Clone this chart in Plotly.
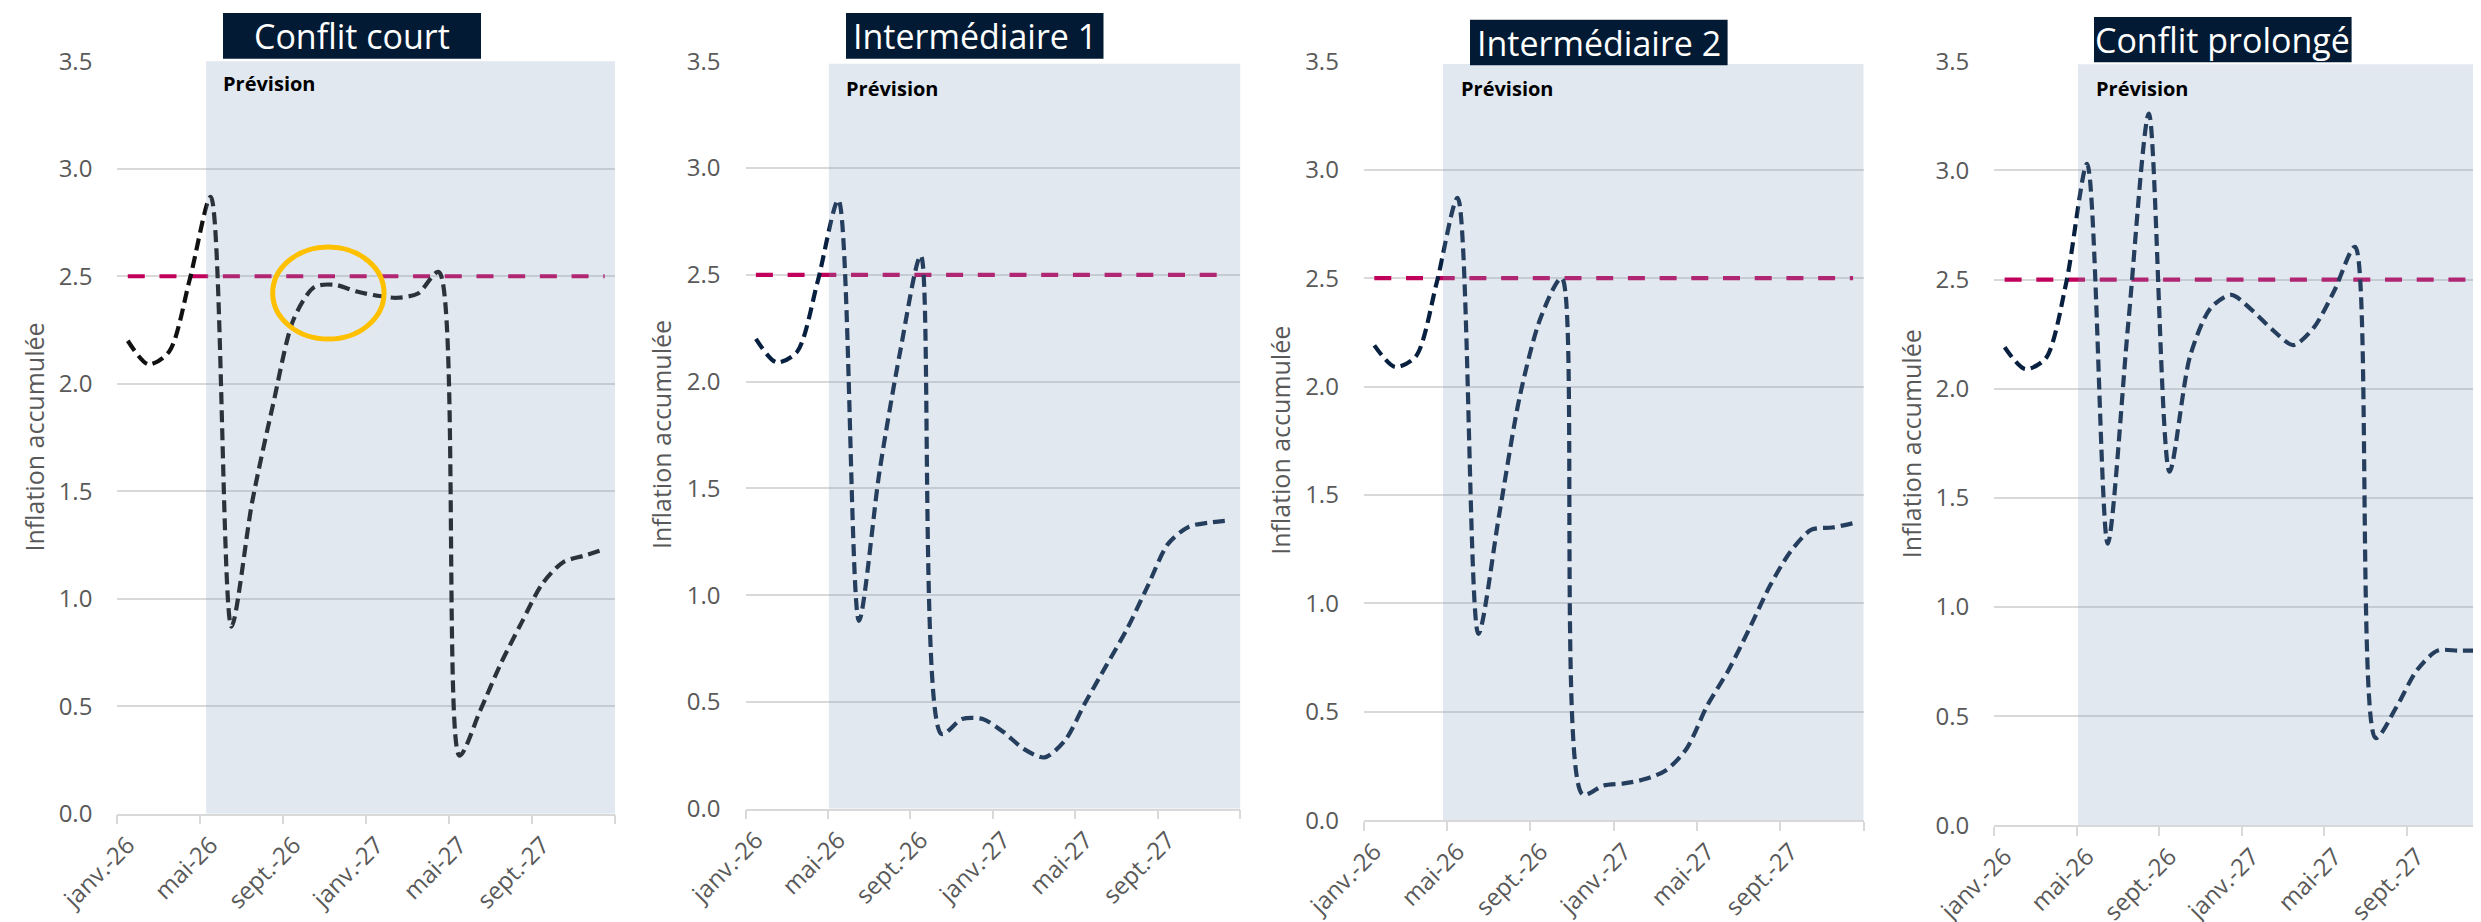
import plotly.graph_objects as go

W, H = 2481, 922

# ---------------- data ----------------
months = ["janv.-26", "févr.-26", "mars-26", "avr.-26", "mai-26", "juin-26",
          "juil.-26", "août-26", "sept.-26", "oct.-26", "nov.-26", "déc.-26",
          "janv.-27", "févr.-27", "mars-27", "avr.-27", "mai-27", "juin-27",
          "juil.-27", "août-27", "sept.-27", "oct.-27", "nov.-27", "déc.-27"]

conflit_court = [2.20, 2.09, 2.15, 2.49, 2.87, 0.87, 1.45, 1.90, 2.30, 2.45, 2.46, 2.43,
                 2.41, 2.40, 2.42, 2.52, 0.27, 0.48, 0.70, 0.89, 1.07, 1.17, 1.20, 1.23]
intermediaire_1 = [2.20, 2.09, 2.14, 2.47, 2.85, 0.88, 1.58, 2.14, 2.59, 0.35, 0.42, 0.42,
                   0.36, 0.28, 0.24, 0.32, 0.50, 0.67, 0.84, 1.04, 1.24, 1.32, 1.34, 1.35]
intermediaire_2 = [2.19, 2.09, 2.14, 2.48, 2.87, 0.86, 1.41, 1.96, 2.32, 2.50, 0.12, 0.16,
                   0.17, 0.19, 0.23, 0.33, 0.53, 0.69, 0.88, 1.08, 1.24, 1.34, 1.35, 1.37]
conflit_prolonge = [2.19, 2.09, 2.14, 2.49, 3.03, 1.29, 2.30, 3.26, 1.62, 2.15, 2.37, 2.43,
                    2.36, 2.27, 2.20, 2.28, 2.45, 2.65, 0.40, 0.54, 0.71, 0.80, 0.80, 0.80]
cible = [2.5, 2.5, 2.5, 2.5, 2.5, 2.5, 2.5, 2.5, 2.5, 2.5, 2.5, 2.5,
         2.5, 2.5, 2.5, 2.5, 2.5, 2.5, 2.5, 2.5, 2.5, 2.5, 2.5, 2.5]

scenario_titles = ["Conflit court", "Intermédiaire 1", "Intermédiaire 2", "Conflit prolongé"]
y_ticks = [0.0, 0.5, 1.0, 1.5, 2.0, 2.5, 3.0, 3.5]
label_step = 4
y_title = "Inflation accumulée"
forecast_label = "Prévision"

# ---------------- layout (pixels) ----------------
panels = [
    dict(x0=109.4, x1=607.0, ytop=53.3, ybot=805.7, shade=(3.78, 23.6, 3.506),
         box=(215, 473, 5, 50.7), prev=(213, 75), ytitle_x=26),
    dict(x0=737.6, x1=1232.2, ytop=53.3, ybot=800.7, shade=(3.54, 23.7, 3.488),
         box=(838, 1095.5, 5, 50.7), prev=(836, 80), ytitle_x=653),
    dict(x0=1355.9, x1=1855.5, ytop=53.3, ybot=812.3, shade=(3.30, 23.8, 3.487),
         box=(1462, 1719.6, 11.7, 57.3), prev=(1450.6, 80), ytitle_x=1272),
    dict(x0=1986.3, x1=2481.0, ytop=53.3, ybot=817.3, shade=(3.56, 24.0, 3.487),
         box=(2086, 2343.6, 9, 54.3), prev=(2085.7, 80), ytitle_x=1903),
]

series = [conflit_court, intermediaire_1, intermediaire_2, conflit_prolonge]
line_colors = ["#111111", "#08203f", "#08203f", "#08203f"]
FONT = "Open Sans"
GRID = "#d9d9d9"

x_idx = list(range(len(months)))
label_idx = list(range(0, len(months), label_step))
boundaries = [i - 0.5 for i in range(0, len(months) + 1, label_step)]

fig = go.Figure()
shapes, annotations = [], []

def px_x(v):
    return v / W

def px_y(v):
    return 1 - v / H

for k in range(4):
    sfx = "" if k == 0 else str(k + 1)
    xa, ya = "x" + sfx, "y" + sfx
    p = panels[k]

    fig.add_trace(go.Scatter(x=x_idx, y=cible, xaxis=xa, yaxis=ya, mode="lines",
                             line=dict(color="#c0005a", width=4.2, dash="17px,14.7px"),
                             hoverinfo="skip", showlegend=False))
    fig.add_trace(go.Scatter(x=x_idx, y=series[k], xaxis=xa, yaxis=ya, mode="lines",
                             line=dict(color=line_colors[k], width=4.2, dash="12px,6px",
                                       shape="spline", smoothing=0.8),
                             showlegend=False))

    fig.layout["xaxis" + sfx] = dict(
        domain=[px_x(p["x0"]), px_x(p["x1"])], anchor=ya, range=[-0.5, len(months) - 0.5],
        tickvals=label_idx, ticktext=[months[i] for i in label_idx], tickangle=-45,
        ticks="", showgrid=False, zeroline=False, showline=True, linecolor=GRID, linewidth=1.5,
        minor=dict(tickvals=boundaries, ticks="outside", ticklen=9, tickcolor=GRID,
                   tickwidth=1.5, showgrid=False),
        tickfont=dict(family=FONT, size=24, color="#595959"), ticklabelstandoff=6,
        automargin=False, fixedrange=True)
    fig.layout["yaxis" + sfx] = dict(
        domain=[px_y(p["ybot"]), px_y(p["ytop"])], anchor=xa, range=[0, 3.5],
        tickvals=y_ticks, tickformat=".1f", showgrid=True, gridcolor=GRID, gridwidth=1.5,
        zeroline=False, showline=False, ticks="",
        tickfont=dict(family=FONT, size=24, color="#595959"), ticklabelstandoff=24,
        automargin=False, fixedrange=True)

    # forecast shading (drawn over the lines, translucent)
    sx0, sx1, sy1 = p["shade"]
    shapes.append(dict(type="rect", xref=xa, yref=ya, x0=sx0, x1=sx1, y0=0, y1=sy1,
                       fillcolor="rgba(130,159,193,0.24)", line=dict(width=0), layer="above"))

    # title box
    bx0, bx1, by0, by1 = p["box"]
    shapes.append(dict(type="rect", xref="paper", yref="paper",
                       x0=px_x(bx0), x1=px_x(bx1), y0=px_y(by1), y1=px_y(by0),
                       fillcolor="#021a33", line=dict(width=0), layer="above"))
    annotations.append(dict(text=scenario_titles[k], xref="paper", yref="paper",
                            x=px_x((bx0 + bx1) / 2), y=px_y((by0 + by1) / 2),
                            xanchor="center", yanchor="middle", showarrow=False,
                            font=dict(family=FONT, size=34, color="white")))
    # forecast label
    annotations.append(dict(text="<b>" + forecast_label + "</b>", xref="paper", yref="paper",
                            x=px_x(p["prev"][0]), y=px_y(p["prev"][1]),
                            xanchor="left", yanchor="middle", showarrow=False,
                            font=dict(family=FONT, size=20, color="#000000")))
    # y axis title
    annotations.append(dict(text=y_title, xref="paper", yref="paper",
                            x=px_x(p["ytitle_x"]), y=px_y((p["ytop"] + p["ybot"]) / 2),
                            xanchor="center", yanchor="middle", textangle=-90,
                            showarrow=False,
                            font=dict(family=FONT, size=25, color="#595959")))

# highlight circle on the first panel
shapes.append(dict(type="circle", xref="x", yref="y", x0=6.99, x1=12.36, y0=2.208, y1=2.636,
                   line=dict(color="#FFC000", width=5), layer="above"))

fig.update_layout(width=W, height=H, margin=dict(l=0, r=0, t=0, b=0, autoexpand=False),
                  paper_bgcolor="white", plot_bgcolor="white",
                  shapes=shapes, annotations=annotations, showlegend=False,
                  font=dict(family=FONT))

fig.write_html("out.html")
